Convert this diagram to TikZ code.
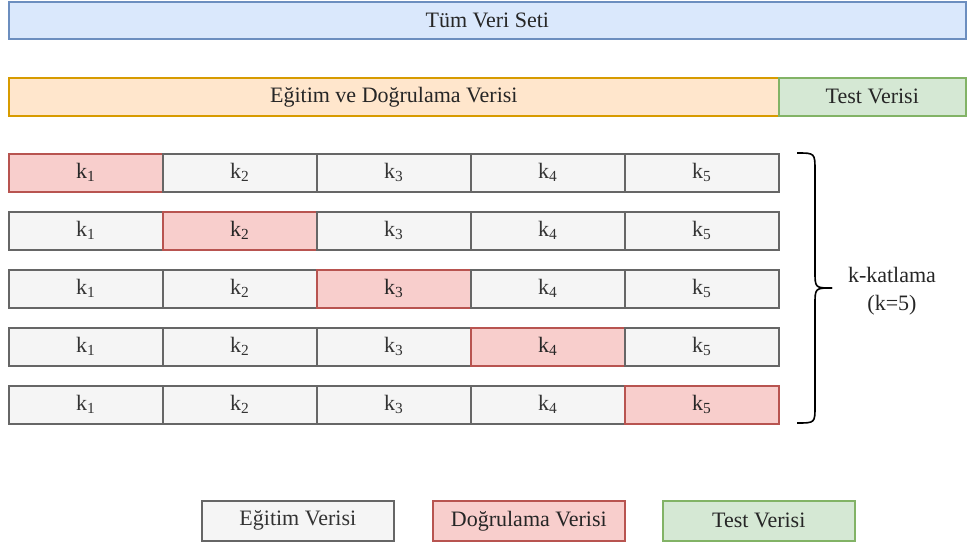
\documentclass[tikz,border=0pt]{standalone}
\usepackage{fontspec}
\setmainfont{Liberation Serif}
\newfontfamily\tnr{Liberation Serif}
\definecolor{blueF}{HTML}{DAE8FC}\definecolor{blueD}{HTML}{6C8EBF}
\definecolor{orangeF}{HTML}{FFE6CC}\definecolor{orangeD}{HTML}{D79B00}
\definecolor{greenF}{HTML}{D5E8D4}\definecolor{greenD}{HTML}{82B366}
\definecolor{redF}{HTML}{F8CECC}\definecolor{redD}{HTML}{B85450}
\definecolor{grayF}{HTML}{F5F5F5}\definecolor{grayD}{HTML}{666666}\definecolor{grayT}{HTML}{333333}
\begin{document}
\begin{tikzpicture}[x=1pt,y=-1pt,font=\tnr\fontsize{22}{26}\selectfont,
  box/.style={rectangle,line width=1.6pt,anchor=north west,inner sep=0pt},
  blueb/.style={box,fill=blueF,draw=blueD,text=black!85},
  orangeb/.style={box,fill=orangeF,draw=orangeD,text=black!85},
  greenb/.style={box,fill=greenF,draw=greenD,text=black!85},
  redb/.style={box,fill=redF,draw=redD,text=black!85},
  grayb/.style={box,fill=grayF,draw=grayD,text=grayT},
  cellsz/.style={minimum width=154pt,minimum height=38pt},
  legsz/.style={minimum width=192pt,minimum height=40pt}]
\useasboundingbox (0,0) rectangle (967,544);
\node[blueb,minimum width=957pt,minimum height=37pt] (all) at (8,1) {Tüm Veri Seti};
\node[orangeb,minimum width=770pt,minimum height=38pt] (tv) at (8,77) {Eğitim ve Doğrulama Verisi};
\node[greenb,minimum width=187pt,minimum height=38pt] (test) at (778,77) {Test Verisi};
\foreach \r in {1,...,5}{
  \foreach \c in {1,...,5}{
    \ifnum\r=\c \def\st{redb}\else\def\st{grayb}\fi
    \node[\st,cellsz] (c-\r-\c) at ({8+(\c-1)*154},{153+(\r-1)*58}) {k\textsubscript{\c}};
  }
}
\draw[line width=1.6pt] (797,153) .. controls (815,153) .. (815,171) -- (815,271) .. controls (815,288) .. (832,288) coordinate (tip);
\draw[line width=1.6pt] (tip) .. controls (815,288) .. (815,305) -- (815,406) .. controls (815,423) .. (797,423);
\node[align=center,font=\tnr\fontsize{22}{28}\selectfont,text=black!85] (klab) at (892,291) {k-katlama\\(k=5)};
\node[grayb,legsz] (l1) at (201,500) {Eğitim Verisi};
\node[redb,legsz] (l2) at (432,500) {Doğrulama Verisi};
\node[greenb,legsz] (l3) at (662,500) {Test Verisi};
\end{tikzpicture}
\end{document}
